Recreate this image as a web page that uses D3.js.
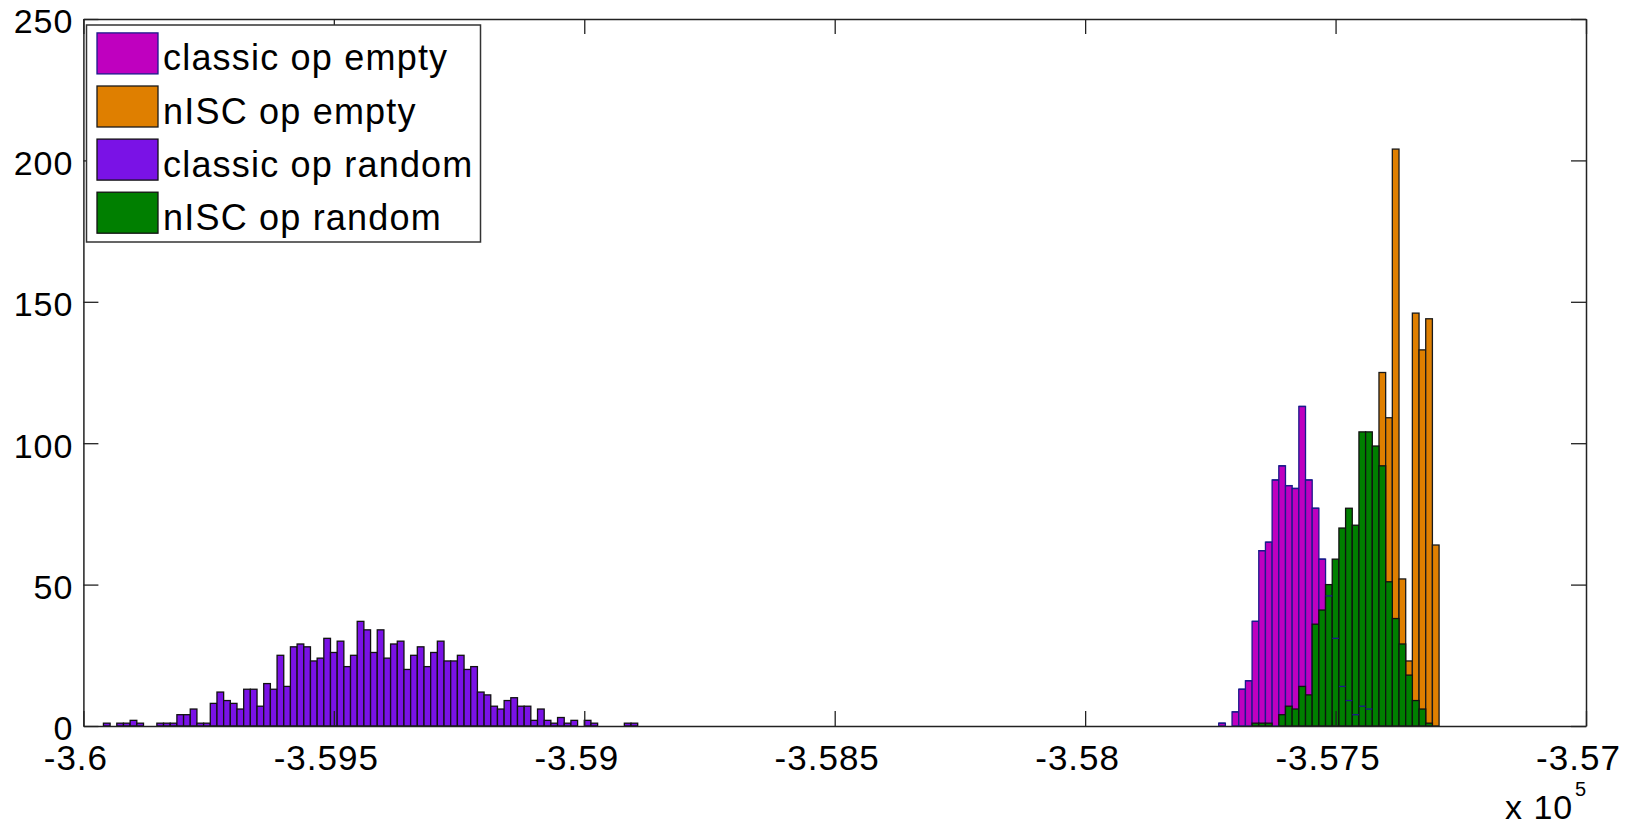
<!DOCTYPE html>
<html>
<head>
<meta charset="utf-8">
<script src="https://cdn.jsdelivr.net/npm/d3@7"></script>
<style>
  html, body { margin: 0; padding: 0; background: #ffffff; }
  svg { display: block; }
  text { font-family: "Liberation Sans", Arial, Helvetica, sans-serif; fill: #000; }
</style>
</head>
<body>
<svg id="chart" width="1630" height="826"></svg>
<script>
// ---------------- data ----------------
const seriesNames = ["classic op empty", "nISC op empty", "classic op random", "nISC op random"];
const seriesFill = ["#bf00bf", "#df7f00", "#7a12e6", "#007f00"];
const seriesEdge = ["#1a1a8c", "#1a1a1a", "#111111", "#111111"];

// shared histogram bins: left edge of bin k = binOrigin + k * binWidth
const binOrigin = -360000;
const binWidth = 40 / 3;

const classicEmptyStart = 170;
const classicEmptyCounts = [1, 0, 5, 13, 16, 37, 62, 65, 87, 92, 85, 84, 113, 87, 77, 59, 46, 31, 14, 9, 4, 7, 6];

const niscEmptyStart = 194;
const niscEmptyCounts = [125, 109, 204, 52, 23, 146, 133, 144, 64];

const classicRandomStart = 3;
const classicRandomCounts = [
  1, 0, 1, 1, 2, 1, 0, 0, 1, 1, 1, 4, 4, 6, 1, 1, 8, 12, 9, 8,
  6, 13, 13, 7, 15, 13, 25, 14, 28, 29, 28, 23, 24, 31, 26, 30, 21, 25, 37, 34,
  26, 34, 24, 29, 30, 20, 25, 28, 21, 26, 30, 23, 23, 25, 20, 21, 12, 11, 7, 6,
  9, 10, 7, 7, 2, 6, 2, 1, 3, 1, 2, 0, 2, 1, 0, 0, 0, 0, 1, 1
];

const niscRandomStart = 175;
const niscRandomCounts = [1, 1, 1, 0, 4, 7, 6, 14, 11, 36, 41, 50, 59, 70, 77, 71, 104, 104, 99, 92, 51, 38, 29, 18, 9, 6, 1];

const xTickValues = [-360000, -359500, -359000, -358500, -358000, -357500, -357000];
const xTickLabels = ["-3.6", "-3.595", "-3.59", "-3.585", "-3.58", "-3.575", "-3.57"];
const yTickValues = [0, 50, 100, 150, 200, 250];
const yTickLabels = ["0", "50", "100", "150", "200", "250"];

// ---------------- layout ----------------
const svg = d3.select("#chart");
const plotLeft = 83.4, plotRight = 1586, plotTop = 19, plotBottom = 726;
const x = d3.scaleLinear().domain([-360000, -357000]).range([plotLeft, plotRight]);
const y = d3.scaleLinear().domain([0, 250]).range([plotBottom, plotTop]);

function toBins(start, counts) {
  return counts.map((c, i) => ({
    x0: binOrigin + (start + i) * binWidth,
    x1: binOrigin + (start + i + 1) * binWidth,
    count: c
  })).filter(d => d.count > 0);
}

const allSeries = [
  toBins(classicEmptyStart, classicEmptyCounts),
  toBins(niscEmptyStart, niscEmptyCounts),
  toBins(classicRandomStart, classicRandomCounts),
  toBins(niscRandomStart, niscRandomCounts)
];

// ---------------- bars ----------------
const barsG = svg.append("g");
allSeries.forEach((bins, si) => {
  barsG.append("g")
    .selectAll("rect")
    .data(bins)
    .join("rect")
    .attr("x", d => x(d.x0))
    .attr("y", d => y(d.count))
    .attr("width", d => x(d.x1) - x(d.x0))
    .attr("height", d => y(0) - y(d.count))
    .attr("fill", seriesFill[si])
    .attr("stroke", seriesEdge[si])
    .attr("stroke-width", 1.3);
});
// the top edges of the first series show through the later bars
barsG.append("g")
  .selectAll("line")
  .data(allSeries[0])
  .join("line")
  .attr("x1", d => x(d.x0))
  .attr("x2", d => x(d.x1))
  .attr("y1", d => y(d.count))
  .attr("y2", d => y(d.count))
  .attr("stroke", seriesEdge[0])
  .attr("stroke-width", 1.3);

// ---------------- axes ----------------
const axisColor = "#222";
const tickLen = 15;
const fontSize = 35;

const gBottom = svg.append("g").attr("transform", `translate(0,${plotBottom})`)
  .call(d3.axisBottom(x).tickValues(xTickValues)
    .tickFormat((d, i) => xTickLabels[i])
    .tickSizeInner(-tickLen).tickSizeOuter(0).tickPadding(19));
const gTop = svg.append("g").attr("transform", `translate(0,${plotTop})`)
  .call(d3.axisTop(x).tickValues(xTickValues).tickFormat("")
    .tickSizeInner(-tickLen).tickSizeOuter(0));
const gLeft = svg.append("g").attr("transform", `translate(${plotLeft},0)`)
  .call(d3.axisLeft(y).tickValues(yTickValues)
    .tickFormat((d, i) => yTickLabels[i])
    .tickSizeInner(-tickLen).tickSizeOuter(0).tickPadding(10));
const gRight = svg.append("g").attr("transform", `translate(${plotRight},0)`)
  .call(d3.axisRight(y).tickValues(yTickValues).tickFormat("")
    .tickSizeInner(-tickLen).tickSizeOuter(0));

[gBottom, gTop, gLeft, gRight].forEach(g => {
  g.selectAll("path.domain").attr("stroke", axisColor).attr("stroke-width", 1.5);
  g.selectAll(".tick line").attr("stroke", axisColor).attr("stroke-width", 1.3);
  g.selectAll(".tick text")
    .attr("font-family", "Liberation Sans, Arial, sans-serif")
    .attr("font-size", fontSize)
    .attr("letter-spacing", "1px")
    .attr("fill", "#000");
});
gBottom.selectAll(".tick text").attr("dx", -8);
gLeft.selectAll(".tick text").attr("font-size", 34).attr("transform", "translate(0,3)");

// exponent label
const expG = svg.append("g");
expG.append("text")
  .attr("x", 1505).attr("y", 819)
  .attr("font-size", 34).attr("letter-spacing", "1px")
  .text("x 10");
expG.append("text")
  .attr("x", 1575).attr("y", 796)
  .attr("font-size", 20)
  .text("5");

// ---------------- legend ----------------
const legX = 86.5, legY = 25, legW = 394, legH = 217;
const leg = svg.append("g");
leg.append("rect")
  .attr("x", legX).attr("y", legY).attr("width", legW).attr("height", legH)
  .attr("fill", "#fff").attr("stroke", "#333").attr("stroke-width", 1.5);
const rowY = d3.scalePoint().domain(seriesNames).range([53.4, 212.7]);
seriesNames.forEach((name, i) => {
  const cy = rowY(name);
  leg.append("rect")
    .attr("x", 97).attr("y", cy - 20.5).attr("width", 61).attr("height", 41)
    .attr("fill", seriesFill[i]).attr("stroke", seriesEdge[i]).attr("stroke-width", 1.3);
  leg.append("text")
    .attr("x", 163).attr("y", cy + 17)
    .attr("font-size", 36).attr("letter-spacing", "1.2px")
    .text(name);
});
</script>
</body>
</html>
